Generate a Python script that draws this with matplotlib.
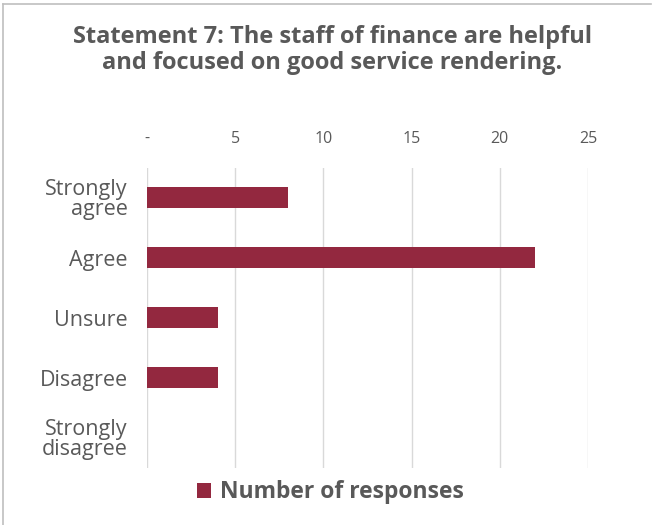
import matplotlib
matplotlib.use("Agg")
import matplotlib.pyplot as plt
from matplotlib.lines import Line2D
from matplotlib.patches import Patch

plt.rcParams["font.family"] = ["Open Sans", "DejaVu Sans"]

# Survey responses
categories = ["Strongly\nagree", "Agree", "Unsure", "Disagree", "Strongly\ndisagree"]
responses = [8, 22, 4, 4, 0]
tick_values = [0, 5, 10, 15, 20, 25]
tick_labels = ["-", "5", "10", "15", "20", "25"]

bar_color = "#93283f"
text_color = "#595959"
grid_color = "#d9d9d9"

fig = plt.figure(figsize=(6.54, 5.25), dpi=100)
ax = fig.add_axes([0.2248, 0.1086, 0.6743, 0.5714])

y = list(range(len(categories)))
ax.barh(y, responses, height=0.35, color=bar_color, zorder=3)

ax.set_ylim(len(categories) - 0.5, -0.5)
ax.set_yticks(y)
ax.set_yticklabels(categories, fontsize=15.5, color=text_color, linespacing=0.9)
ax.set_xlim(0, 25)
ax.set_xticks(tick_values)
ax.set_xticklabels(tick_labels, fontsize=11.5, color=text_color)
ax.xaxis.tick_top()
ax.tick_params(axis="x", length=0, pad=15)
ax.tick_params(axis="y", length=0, pad=14)
ax.grid(axis="x", color=grid_color, linewidth=1, zorder=0)
for s in ax.spines.values():
    s.set_visible(False)

fig.text(0.508, 0.905, "Statement 7: The staff of finance are helpful\nand focused on good service rendering.",
         ha="center", va="center", fontsize=17, fontweight="bold", color=text_color, linespacing=1.15)

handles = [Patch(facecolor=bar_color, label="Number of responses")]
fig.legend(handles=handles, loc="center", bbox_to_anchor=(0.505, 0.062), frameon=False,
           prop={"size": 16.5, "weight": "bold"}, labelcolor=text_color,
           handlelength=0.6, handleheight=0.6, handletextpad=0.4)

# Chart frame (top and left edges)
fig.add_artist(Line2D([0.004, 0.995], [0.992, 0.992], color="#bfbfbf", linewidth=1.2))
fig.add_artist(Line2D([0.005, 0.005], [0.0, 0.992], color="#bfbfbf", linewidth=1.2))

fig.savefig("out.png", dpi=100)
